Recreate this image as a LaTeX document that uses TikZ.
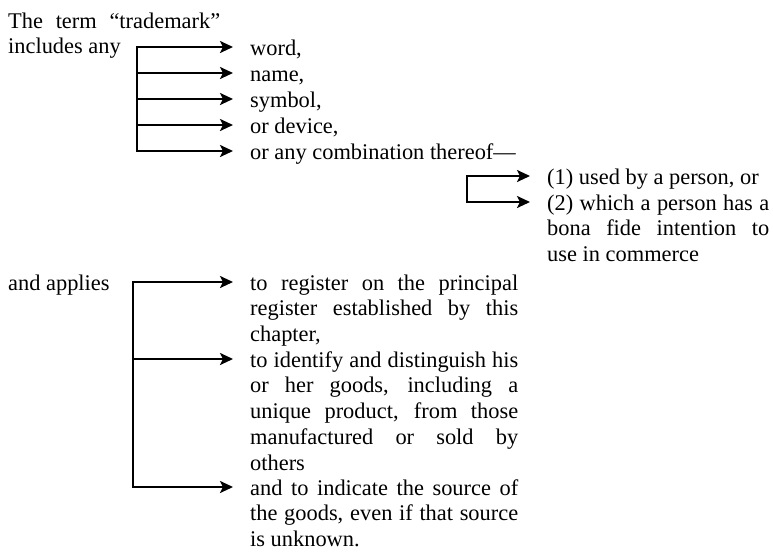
\documentclass[tikz,border=0pt]{standalone}
\usepackage{fontspec}
\setmainfont{Liberation Serif}
\usetikzlibrary{arrows.meta}
\hyphenpenalty=10000
\tolerance=9999
\tikzset{
	txt/.style={inner sep=0pt,anchor=base west,font=\fontsize{22.4}{25.8}\selectfont},
	block/.style={txt,text width=#1,align=justify},
	link/.style={line width=2.4pt},
}
\begin{document}
\begin{tikzpicture}[>={Stealth[length=13pt,width=12pt,inset=3pt]},x=1pt,y=-1pt]
	\useasboundingbox (0,0) rectangle (773,552);
	\def\gap{17pt}
	\def\lift{8pt}
	% left labels
	\node[block=212pt] (term) at (8,28) {The term “trademark”\linebreak includes any};
	\node[txt] (applies) at (8,290) {and applies};
	% what the term includes
	\node[txt] (word) at (250,55) {word,};
	\node[txt] (name) at (250,81) {name,};
	\node[txt] (symbol) at (250,107) {symbol,};
	\node[txt] (device) at (250,133) {or device,};
	\node[txt] (combo) at (250,159) {or any combination thereof—};
	% how it is used
	\node[txt] (used) at (547,184) {(1) used by a person, or};
	\node[block=222pt] (intent) at (547,210) {(2) which a person has a\linebreak bona fide intention to\linebreak use in commerce};
	% what it applies to
	\node[block=268pt] (reg) at (250,290) {to register on the principal\linebreak register established by this\linebreak chapter,};
	\node[block=268pt] (ident) at (250,367) {to identify and distinguish his\linebreak or her goods, including a\linebreak unique product, from those\linebreak manufactured or sold by\linebreak others};
	\node[block=268pt] (src) at (250,495) {and to indicate the source of\linebreak the goods, even if that source\linebreak is unknown.};
	% arrows
	\foreach \n in {word,name,symbol,device,combo,used,intent,reg,ident,src}
		\coordinate (\n-in) at ([xshift=-\gap,yshift=\lift]\n.base west);
	\coordinate (bar1) at (137,0);
	\coordinate (bar2) at (467,0);
	\coordinate (bar3) at (133,0);
	\draw[link,<->] (word-in) -| (bar1 |- combo-in) -- (combo-in);
	\foreach \n in {name,symbol,device}
		\draw[link,->] (bar1 |- \n-in) -- (\n-in);
	\draw[link,<->] (used-in) -| (bar2 |- intent-in) -- (intent-in);
	\draw[link,<->] (reg-in) -| (bar3 |- src-in) -- (src-in);
	\draw[link,->] (bar3 |- ident-in) -- (ident-in);
\end{tikzpicture}
\end{document}
